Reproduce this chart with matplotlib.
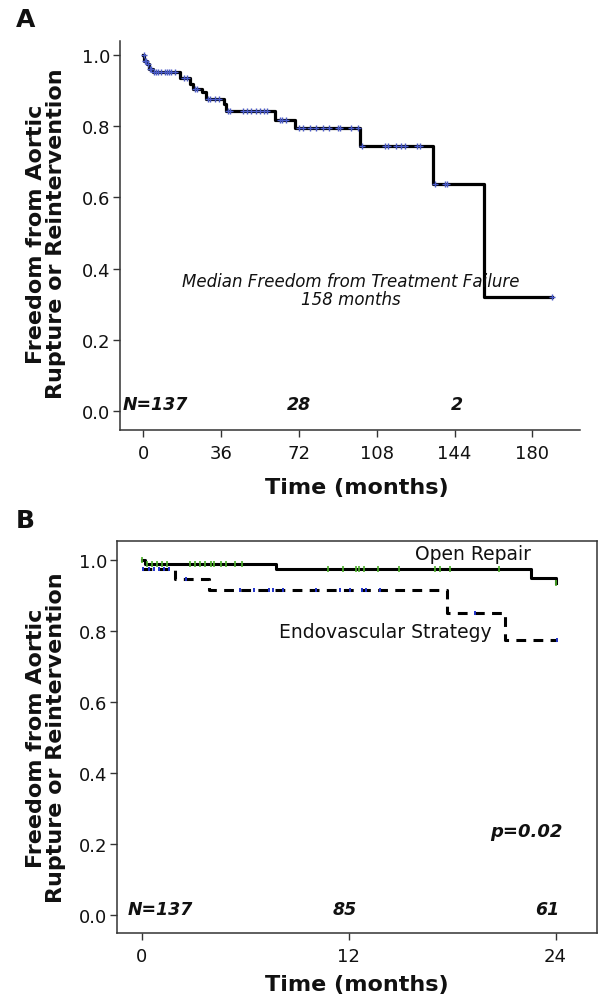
import numpy as np
import matplotlib
matplotlib.use("Agg")
import matplotlib.pyplot as plt

plt.rcParams['font.family'] = ['DejaVu Sans']

# ---------------- Data ----------------
# Panel A: overall Kaplan-Meier (months, survival)
a_times = [0, 0.5, 1.5, 2.5, 4.5, 17, 21.6, 23, 27, 29, 37.3, 38.3, 61, 70.2,
           100.3, 133.9, 157.7, 189]
a_surv = [1.0, 0.985, 0.975, 0.962, 0.953, 0.936, 0.920, 0.906, 0.897, 0.876,
          0.864, 0.843, 0.819, 0.794, 0.745, 0.639, 0.319, 0.319]
a_censor = [0.3, 0.8, 1.2, 2, 3, 3.5, 5, 6, 7, 8, 10, 11, 12, 13, 14.5, 19, 20,
            24, 25, 30, 31, 33, 35, 39, 40, 46, 48, 50, 52, 54, 56, 57, 63, 64,
            66, 72, 74, 77, 80, 83, 86, 90, 91, 96, 99.5, 101, 112, 113.4, 117,
            119, 121, 126.6, 128, 135, 139.6, 140.4, 189]
a_xticks = [0, 36, 72, 108, 144, 180]
a_risk_x = [-9.4, 72, 145]
a_risk_labels = ["N=137", "28", "2"]

# Panel B: by strategy
open_times = [0, 0.2, 7.8, 22.6, 24.0]
open_surv = [1.0, 0.99, 0.976, 0.949, 0.935]
open_censor = [0, 0.3, 0.6, 0.9, 1.16, 1.45, 2.8, 3.1, 3.4, 3.7, 4.0, 4.2, 4.6,
               4.9, 5.4, 5.8, 10.8, 11.7, 12.4, 12.6, 12.9, 13.7, 14.9, 17.0,
               17.3, 17.9, 20.7, 24.0]
endo_times = [0, 1.93, 3.92, 17.7, 21.06, 24.06]
endo_surv = [0.976, 0.946, 0.915, 0.852, 0.775, 0.775]
endo_censor = [0.1, 0.4, 0.7, 1.0, 1.3, 1.6, 2.57, 5.7, 6.5, 7.4, 7.6, 8.2,
               10.1, 11.5, 12.1, 12.75, 13.0, 13.8, 19.3, 24.06]
b_xticks = [0, 12, 24]
b_risk_x = [-0.8, 11.8, 23.5]
b_risk_labels = ["N=137", "85", "61"]

y_ticks = [0.0, 0.2, 0.4, 0.6, 0.8, 1.0]
y_ticklabels = ["0.0", "0.2", "0.4", "0.6", "0.8", "1.0"]


def step_value(times, surv, t):
    idx = np.searchsorted(times, t, side='right') - 1
    return np.asarray(surv)[idx]


W, H = 599, 1004
fig = plt.figure(figsize=(W / 100, H / 100), dpi=100)

SPINE = '#333333'
BLUE = '#4a5bc8'
GREEN = '#4caf2a'


def style_axes(ax, box):
    for s in ['left', 'bottom', 'top', 'right']:
        ax.spines[s].set_color(SPINE)
        ax.spines[s].set_linewidth(1.1)
    if not box:
        ax.spines['top'].set_visible(False)
        ax.spines['right'].set_visible(False)
    ax.tick_params(direction='out', length=5, width=1.0, color=SPINE,
                   labelsize=13, pad=2, labelcolor='#111111')
    ax.tick_params(axis='x', pad=5)
    ax.set_yticks(y_ticks)
    ax.set_yticklabels(y_ticklabels)


# ---------------- Panel A ----------------
axA = fig.add_axes([120 / W, 1 - 431 / H, 460 / W, 389 / H])
style_axes(axA, box=False)
axA.step(a_times, a_surv, where='post', color='black', lw=2.3)
axA.plot(a_censor, step_value(a_times, a_surv, a_censor), ls='none',
         marker='+', ms=4.5, mew=1.0, color=BLUE)
axA.set_xlim(-10.8, 202)
axA.set_ylim(-0.054, 1.04)
axA.set_xticks(a_xticks)
axA.set_xticklabels([str(v) for v in a_xticks])
for x, lab, ha in zip(a_risk_x, a_risk_labels, ['left', 'center', 'center']):
    axA.text(x, 0.019, lab, ha=ha, va='center', fontsize=12.5,
             fontweight='bold', fontstyle='italic', color='#111111')
axA.text(96, 0.365, "Median Freedom from Treatment Failure", ha='center',
         va='center', fontsize=12, fontstyle='italic', color='#111111')
axA.text(96, 0.315, "158 months", ha='center', va='center', fontsize=12,
         fontstyle='italic', color='#111111')

# ---------------- Panel B ----------------
axB = fig.add_axes([117.3 / W, 1 - 934 / H, 479.7 / W, 392 / H])
style_axes(axB, box=True)
axB.step(open_times, open_surv, where='post', color='black', lw=2.2)
axB.step(endo_times, endo_surv, where='post', color='black', lw=2.2,
         ls=(0, (3.2, 2.4)))
axB.plot(open_censor, step_value(open_times, open_surv, open_censor),
         ls='none', marker='|', ms=4, mew=1.2, color=GREEN)
axB.plot(endo_censor, step_value(endo_times, endo_surv, endo_censor),
         ls='none', marker='|', ms=3, mew=1.4, color='#2233cc')
axB.set_xlim(-1.41, 26.4)
axB.set_ylim(-0.05, 1.0535)
axB.set_xticks(b_xticks)
axB.set_xticklabels([str(v) for v in b_xticks])
for x, lab, ha in zip(b_risk_x, b_risk_labels, ['left', 'center', 'center']):
    axB.text(x, 0.018, lab, ha=ha, va='center', fontsize=12.5,
             fontweight='bold', fontstyle='italic', color='#111111')
axB.text(24.4, 0.237, "p=0.02", ha='right', va='center', fontsize=13,
         fontweight='bold', fontstyle='italic', color='#111111')
axB.text(19.2, 1.017, "Open Repair", ha='center', va='center', fontsize=13.5,
         color='#111111')
axB.text(14.1, 0.800, "Endovascular Strategy", ha='center', va='center',
         fontsize=13.5, color='#111111')

# ---------------- Labels ----------------
ylab = "Freedom from Aortic\nRupture or Reintervention"
fig.text(46 / W, 1 - 234 / H, ylab, rotation=90, ha='center', va='center',
         multialignment='center', fontsize=16, fontweight='bold',
         linespacing=1.0, color='#111111')
fig.text(46 / W, 1 - 738 / H, ylab, rotation=90, ha='center', va='center',
         multialignment='center', fontsize=16, fontweight='bold',
         linespacing=1.0, color='#111111')
fig.text(357 / W, 1 - 488 / H, "Time (months)", ha='center', va='center',
         fontsize=16, fontweight='bold', color='#111111')
fig.text(357 / W, 1 - 985 / H, "Time (months)", ha='center', va='center',
         fontsize=16, fontweight='bold', color='#111111')
fig.text(16 / W, 1 - 20 / H, "A", ha='left', va='center', fontsize=18,
         fontweight='bold', color='#111111')
fig.text(16 / W, 1 - 521 / H, "B", ha='left', va='center', fontsize=18,
         fontweight='bold', color='#111111')

fig.savefig("out.png", dpi=100, facecolor='white')
